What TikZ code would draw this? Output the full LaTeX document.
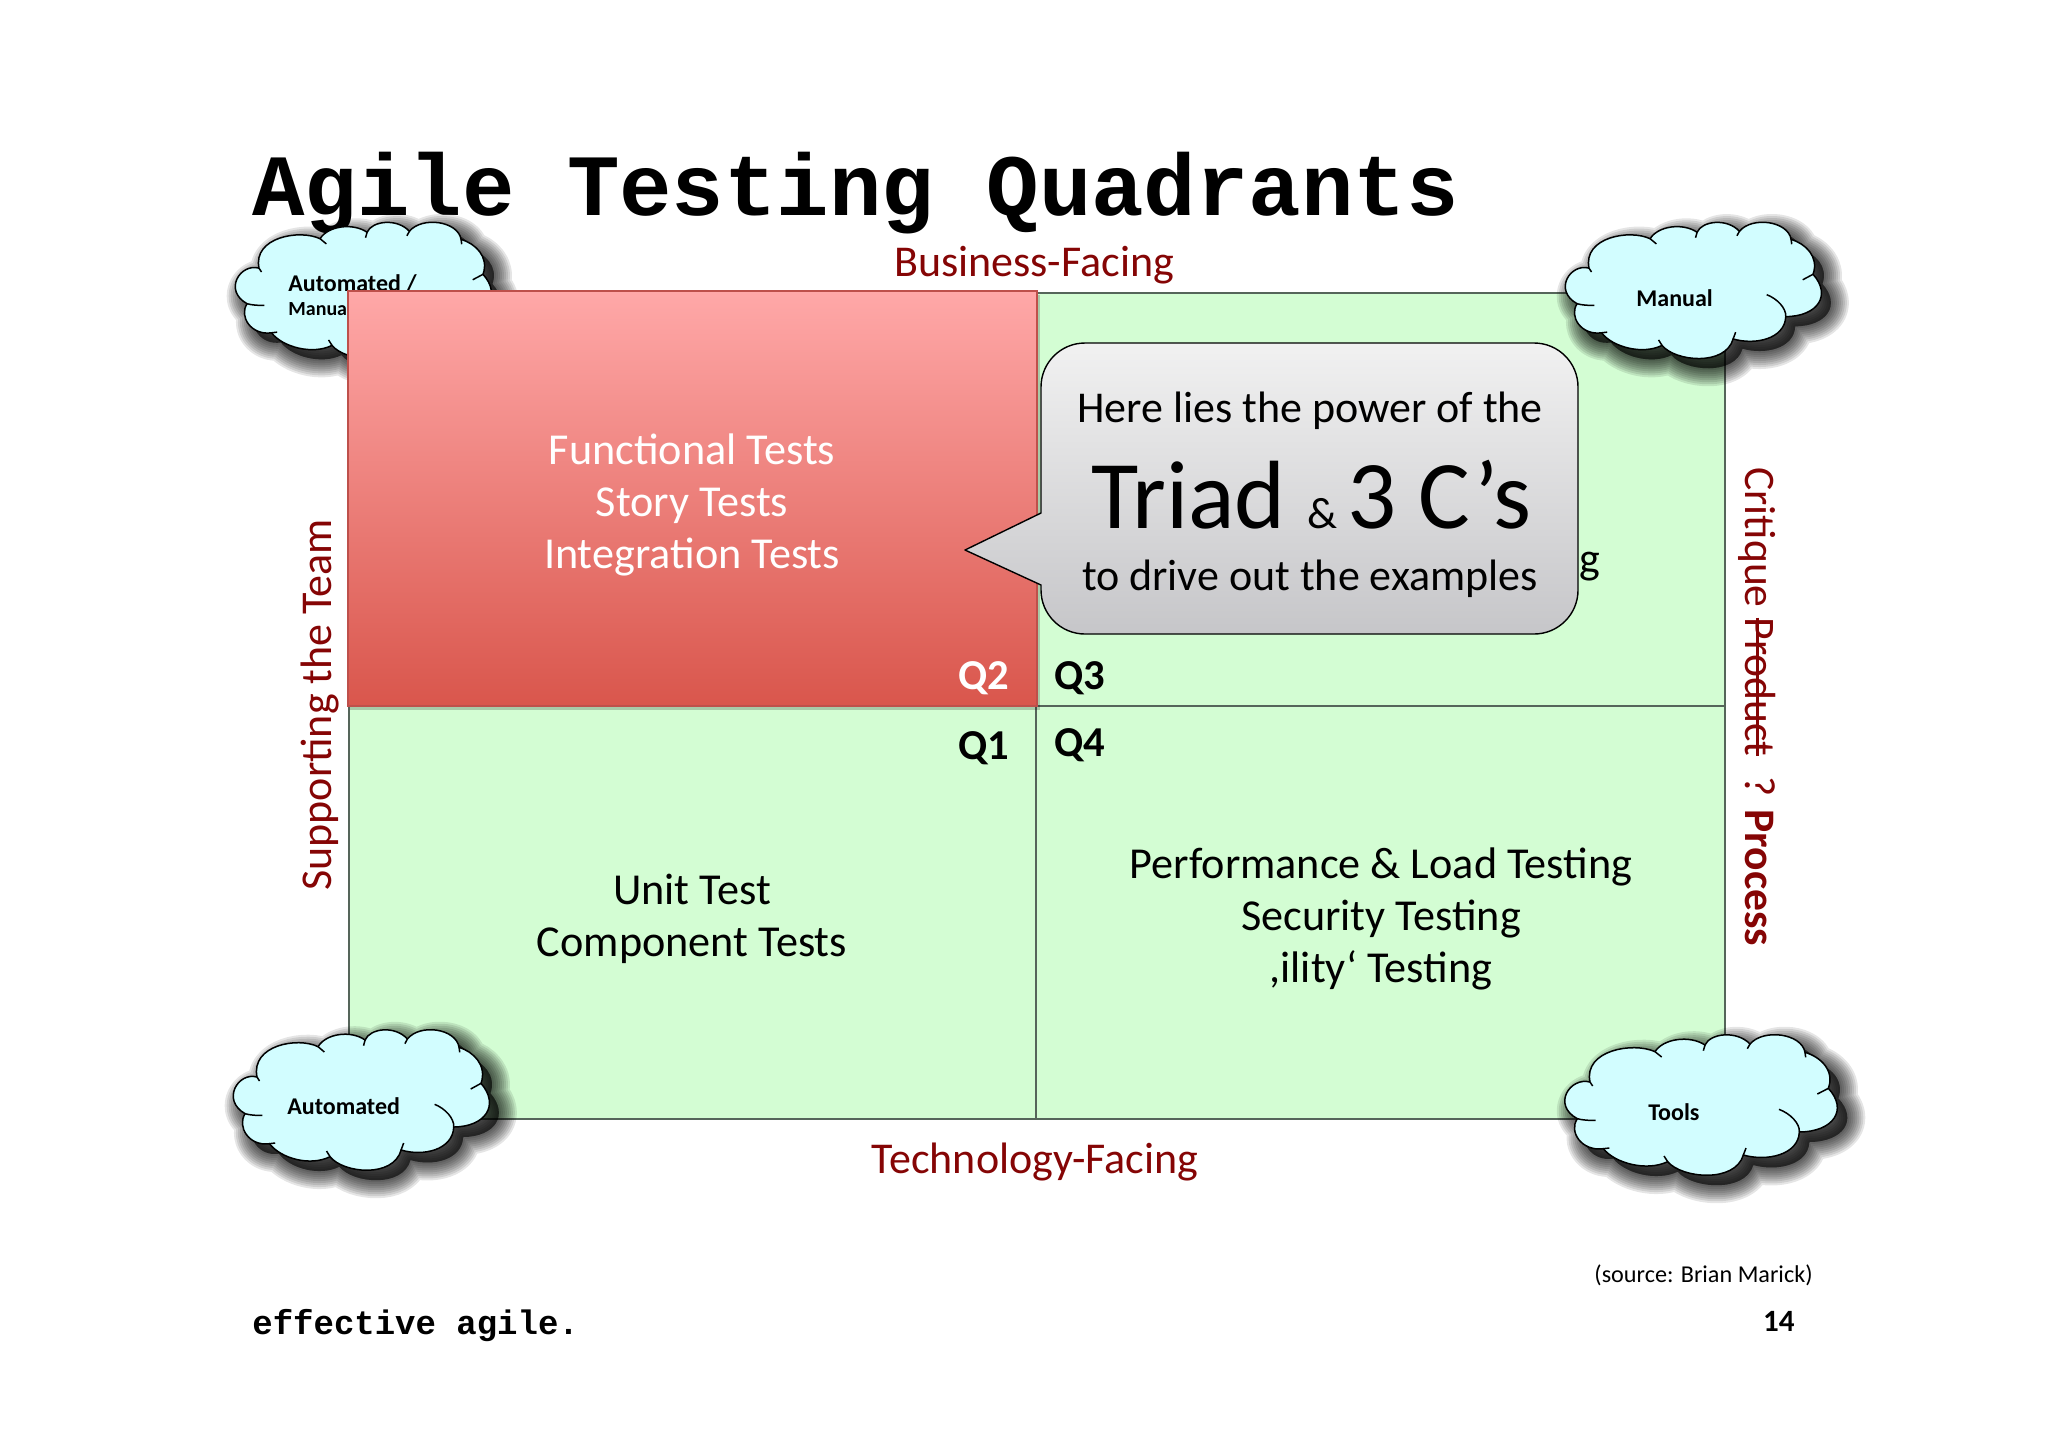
\documentclass[tikz,border=0pt]{standalone}
\usepackage{fontspec}
\setmainfont{Carlito}
\setmonofont{Liberation Mono}

\definecolor{quadgreen}{HTML}{D3FDD3}
\definecolor{quadline}{HTML}{55655A}
\definecolor{axisred}{HTML}{850505}
\definecolor{cloudblue}{HTML}{D2FDFF}

\newsavebox{\strikebox}
\newcommand{\strikeword}[1]{\sbox{\strikebox}{#1}\rlap{\usebox{\strikebox}}\rule[0.25em]{\wd\strikebox}{0.06em}}

\newcommand{\cloudoutline}{(150,186) .. controls (90,170) and (35,255) .. (112,296)
	.. controls (85,335) and (125,395) .. (190,386)
	.. controls (225,430) and (320,455) .. (383,425)
	.. controls (425,475) and (585,490) .. (610,405)
	.. controls (680,425) and (775,405) .. (778,336)
	.. controls (880,335) and (925,270) .. (865,205)
	.. controls (885,150) and (840,110) .. (795,97)
	.. controls (785,40) and (670,25) .. (630,72)
	.. controls (590,30) and (510,40) .. (495,75)
	.. controls (450,45) and (370,55) .. (345,95)
	.. controls (280,65) and (130,90) .. (150,186) -- cycle}

\tikzset{
	axislabel/.style={text=axisred, font=\fontsize{22}{26}\selectfont, anchor=base},
	quadtext/.style={font=\fontsize{22.1}{26}\selectfont, align=center},
	quadnum/.style={font=\fontsize{21.3}{25}\selectfont\bfseries, anchor=base},
	calltext/.style={font=\fontsize{22}{26}\selectfont, anchor=base},
	cloudtext/.style={font=\fontsize{12}{14}\selectfont\bfseries, anchor=base west},
	pics/cloudpic/.style={code={
		\begin{scope}[scale=1/3]
			\foreach \blur in {18,16,14,12,10,8,6,4,2}
				\draw[shift={(30,30)}, black, fill=black, opacity=0.1, line join=round, line width=\blur*1pt] \cloudoutline;
			\draw[fill=cloudblue, line width=0.75pt] \cloudoutline;
			\draw[line width=0.75pt] (150,186) -- (158,198);
			\draw[line width=0.75pt] (112,296) .. controls (125,300) and (150,302) .. (167,301);
			\draw[line width=0.75pt] (190,386) -- (208,384);
			\draw[line width=0.75pt] (383,425) -- (372,408);
			\draw[line width=0.75pt] (610,405) -- (618,384);
			\draw[line width=0.75pt] (778,336) .. controls (780,310) and (750,280) .. (717,268);
			\draw[line width=0.75pt] (865,205) -- (832,222);
			\draw[line width=0.75pt] (795,97) -- (797,112);
			\draw[line width=0.75pt] (630,72) -- (622,86);
			\draw[line width=0.75pt] (495,75) -- (490,92);
			\draw[line width=0.75pt] (345,95) -- (365,111);
		\end{scope}
	}}
}

\begin{document}
\begin{tikzpicture}[x=0.5pt, y=-0.5pt]
		
		\useasboundingbox (0,0) rectangle (2048,1447);
		
		%Title and footer
		\node[anchor=base west, inner sep=0pt, font=\fontsize{43.7}{50}\selectfont\ttfamily\bfseries] (title) at (252,215) {Agile Testing Quadrants};
		\node[anchor=base west, inner sep=0pt, font=\fontsize{17}{20}\selectfont\ttfamily\bfseries] (brand) at (252,1334) {effective agile.};
		\node[anchor=base east, inner sep=0pt, font=\fontsize{12.1}{15}\selectfont] (source) at (1813,1282) {(source: Brian Marick)};
		\node[anchor=base east, inner sep=0pt, font=\fontsize{15.5}{18}\selectfont\bfseries] (page) at (1795,1331) {14};
		
		%Quadrants
		\draw[fill=quadgreen, draw=quadline, line width=0.7pt] (349,293) rectangle (1725,1119);
		\draw[draw=quadline, line width=0.7pt] (1036,293) -- (1036,1119);
		\draw[draw=quadline, line width=0.7pt] (349,706) -- (1725,706);
		
		%Clouds
		\pic[xscale=0.94, yscale=0.97] at (212,208) {cloudpic};
		\pic[xscale=0.94, yscale=0.97] at (1542,208) {cloudpic};
		\pic[xscale=0.94] at (210,1015) {cloudpic};
		\pic at (1540,1020) {cloudpic};
		\node[cloudtext, inner sep=0pt] (automanual) at (288,291) {Automated /};
		\node[cloudtext, inner sep=0pt, font=\fontsize{10}{12}\selectfont\bfseries] (manualsmall) at (288,315) {Manual};
		\node[cloudtext, inner sep=0pt] (manual) at (1636,306) {Manual};
		\node[cloudtext, inner sep=0pt] (automated) at (287,1114) {Automated};
		\node[cloudtext, inner sep=0pt] (tools) at (1648,1120) {Tools};
		
		%Q2 highlight
		\fill[black, opacity=0.2] (350,295) rectangle (1040,710);
		\shade[top color={rgb,255:red,255;green,168;blue,168}, bottom color={rgb,255:red,217;green,86;blue,76}] (348,291) rectangle (1037,706);
		\draw[draw={rgb,255:red,190;green,80;blue,75}, line width=0.6pt] (348,291) rectangle (1037,706);
		
		%Axis labels
		\node[axislabel] (business) at (1034,276) {Business-Facing};
		\node[axislabel] (technology) at (1035,1173) {Technology-Facing};
		\node[axislabel, anchor=base west, rotate=90, inner sep=0pt] (team) at (331,891) {Supporting the Team};
		\node[axislabel, anchor=base west, rotate=-90, inner sep=0pt, font=\fontsize{21.8}{26}\selectfont] (critique) at (1745,467) {Critique \strikeword{Product}\hspace{5pt} ? \textbf{Process}};
		
		%Quadrant texts
		\node[quadtext, text=white] (q2text) at (692,505) {Functional Tests\\Story Tests\\Integration Tests};
		\node[quadtext] (q1text) at (692,919) {Unit Test\\Component Tests};
		\node[quadtext] (q4text) at (1381,919) {Performance \& Load Testing\\Security Testing\\,ility‘ Testing};
		\node[quadnum, text=white] (q2) at (984,689) {Q2};
		\node[quadnum] (q3) at (1080,689) {Q3};
		\node[quadnum] (q1) at (984,759) {Q1};
		\node[quadnum] (q4) at (1080,756) {Q4};
		\node[anchor=base east, inner sep=0pt, font=\fontsize{22}{25}\selectfont] (q3tail) at (1601,573) {g};
		
		%Callout
		\draw[top color={rgb,255:red,241;green,241;blue,241}, bottom color={rgb,255:red,198;green,198;blue,201}, line width=0.7pt, line join=round]
			(965,550) -- (1041,513) [rounded corners=22pt] -- (1041,343) -- (1578,343) -- (1578,634) -- (1041,634) [sharp corners] -- (1041,585) -- cycle;
		\node[calltext] (calltop) at (1310,422) {Here lies the power of the};
		\node[calltext] (callbot) at (1310,590) {to drive out the examples};
		\node[calltext, font=\fontsize{48.5}{52}\selectfont] (callmid) at (1311,528) {Triad {\fontsize{22}{24}\selectfont\& }3 C’s};
		
		\end{tikzpicture}
\end{document}
